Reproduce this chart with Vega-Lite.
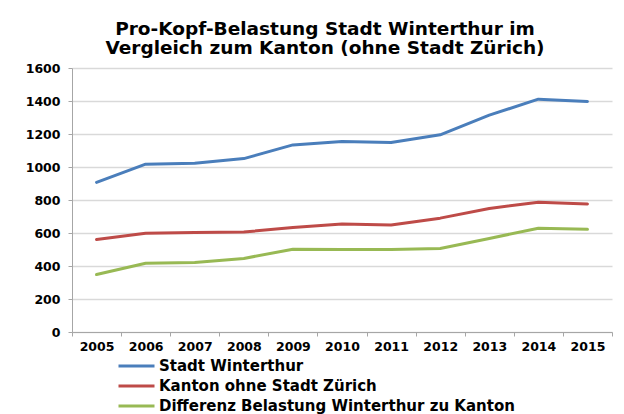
{
  "$schema": "https://vega.github.io/schema/vega-lite/v6.json",
  "autosize": {"type": "none"},
  "width": 540,
  "height": 264,
  "padding": {"left": 72, "top": 68, "right": 12, "bottom": 82},
  "background": "white",
  "title": {
    "text": ["Pro-Kopf-Belastung Stadt Winterthur im", "Vergleich zum Kanton (ohne Stadt Zürich)"],
    "font": "DejaVu Sans",
    "fontSize": 18.5,
    "fontWeight": "bold",
    "color": "#000000",
    "anchor": "middle",
    "dx": -17,
    "offset": 5,
    "lineHeight": 19
  },
  "data": {
    "values": [
      {"Jahr": "2005", "Serie": "Stadt Winterthur", "Wert": 907},
      {"Jahr": "2006", "Serie": "Stadt Winterthur", "Wert": 1017},
      {"Jahr": "2007", "Serie": "Stadt Winterthur", "Wert": 1023},
      {"Jahr": "2008", "Serie": "Stadt Winterthur", "Wert": 1051},
      {"Jahr": "2009", "Serie": "Stadt Winterthur", "Wert": 1134},
      {"Jahr": "2010", "Serie": "Stadt Winterthur", "Wert": 1155},
      {"Jahr": "2011", "Serie": "Stadt Winterthur", "Wert": 1148},
      {"Jahr": "2012", "Serie": "Stadt Winterthur", "Wert": 1195},
      {"Jahr": "2013", "Serie": "Stadt Winterthur", "Wert": 1314},
      {"Jahr": "2014", "Serie": "Stadt Winterthur", "Wert": 1411},
      {"Jahr": "2015", "Serie": "Stadt Winterthur", "Wert": 1397},
      {"Jahr": "2005", "Serie": "Kanton ohne Stadt Zürich", "Wert": 561},
      {"Jahr": "2006", "Serie": "Kanton ohne Stadt Zürich", "Wert": 599},
      {"Jahr": "2007", "Serie": "Kanton ohne Stadt Zürich", "Wert": 603},
      {"Jahr": "2008", "Serie": "Kanton ohne Stadt Zürich", "Wert": 606},
      {"Jahr": "2009", "Serie": "Kanton ohne Stadt Zürich", "Wert": 633},
      {"Jahr": "2010", "Serie": "Kanton ohne Stadt Zürich", "Wert": 655},
      {"Jahr": "2011", "Serie": "Kanton ohne Stadt Zürich", "Wert": 648},
      {"Jahr": "2012", "Serie": "Kanton ohne Stadt Zürich", "Wert": 690},
      {"Jahr": "2013", "Serie": "Kanton ohne Stadt Zürich", "Wert": 749},
      {"Jahr": "2014", "Serie": "Kanton ohne Stadt Zürich", "Wert": 786},
      {"Jahr": "2015", "Serie": "Kanton ohne Stadt Zürich", "Wert": 776},
      {"Jahr": "2005", "Serie": "Differenz Belastung Winterthur zu Kanton", "Wert": 348},
      {"Jahr": "2006", "Serie": "Differenz Belastung Winterthur zu Kanton", "Wert": 417},
      {"Jahr": "2007", "Serie": "Differenz Belastung Winterthur zu Kanton", "Wert": 421},
      {"Jahr": "2008", "Serie": "Differenz Belastung Winterthur zu Kanton", "Wert": 446},
      {"Jahr": "2009", "Serie": "Differenz Belastung Winterthur zu Kanton", "Wert": 502},
      {"Jahr": "2010", "Serie": "Differenz Belastung Winterthur zu Kanton", "Wert": 500},
      {"Jahr": "2011", "Serie": "Differenz Belastung Winterthur zu Kanton", "Wert": 500},
      {"Jahr": "2012", "Serie": "Differenz Belastung Winterthur zu Kanton", "Wert": 506},
      {"Jahr": "2013", "Serie": "Differenz Belastung Winterthur zu Kanton", "Wert": 567},
      {"Jahr": "2014", "Serie": "Differenz Belastung Winterthur zu Kanton", "Wert": 629},
      {"Jahr": "2015", "Serie": "Differenz Belastung Winterthur zu Kanton", "Wert": 622}
    ]
  },
  "mark": {"type": "line", "strokeWidth": 3, "strokeCap": "round", "strokeJoin": "round"},
  "encoding": {
    "x": {
      "field": "Jahr",
      "type": "ordinal",
      "bandPosition": 0.5,
      "scale": {"type": "band", "paddingInner": 0, "paddingOuter": 0},
      "axis": {
        "title": null,
        "labelAngle": 0,
        "labelFont": "DejaVu Sans",
        "labelFontSize": 12.5,
        "labelFontWeight": "bold",
        "labelColor": "#000000",
        "labelPadding": 4,
        "tickBand": "extent",
        "tickSize": 4,
        "tickColor": "#a6a6a6",
        "domainColor": "#a6a6a6",
        "domainWidth": 1,
        "grid": false
      }
    },
    "y": {
      "field": "Wert",
      "type": "quantitative",
      "scale": {"domain": [0, 1600], "nice": false},
      "axis": {
        "title": null,
        "values": [0, 200, 400, 600, 800, 1000, 1200, 1400, 1600],
        "format": "d",
        "labelFont": "DejaVu Sans",
        "labelFontSize": 12.5,
        "labelFontWeight": "bold",
        "labelColor": "#000000",
        "labelPadding": 8,
        "tickSize": 4,
        "tickColor": "#a6a6a6",
        "domainColor": "#a6a6a6",
        "domainWidth": 1,
        "grid": true,
        "gridColor": "#d9d9d9",
        "gridWidth": 1.5
      }
    },
    "color": {
      "field": "Serie",
      "type": "nominal",
      "sort": ["Stadt Winterthur", "Kanton ohne Stadt Zürich", "Differenz Belastung Winterthur zu Kanton"],
      "scale": {
        "domain": ["Stadt Winterthur", "Kanton ohne Stadt Zürich", "Differenz Belastung Winterthur zu Kanton"],
        "range": ["#4a7ebb", "#be4b48", "#98b954"]
      },
      "legend": {
        "title": null,
        "orient": "none",
        "legendX": 45,
        "legendY": 290,
        "direction": "vertical",
        "symbolType": "stroke",
        "symbolSize": 1296,
        "symbolStrokeWidth": 3,
        "clipHeight": 16,
        "rowPadding": 4,
        "labelOffset": 3,
        "labelFont": "DejaVu Sans",
        "labelFontSize": 15,
        "labelFontWeight": "bold",
        "labelColor": "#000000",
        "labelLimit": 500
      }
    }
  },
  "config": {
    "view": {"stroke": null}
  }
}
